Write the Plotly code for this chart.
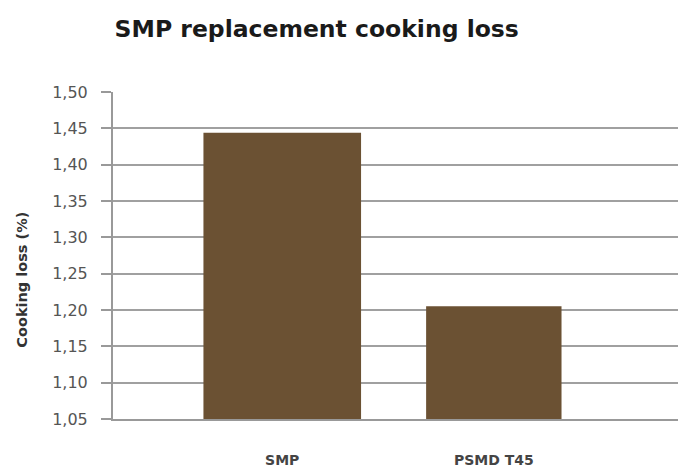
import plotly.graph_objects as go

categories = ["SMP", "PSMD T45"]
values = [1.444, 1.205]
tick_vals = [1.05, 1.10, 1.15, 1.20, 1.25, 1.30, 1.35, 1.40, 1.45, 1.50]

FONT = "DejaVu Sans"

fig = go.Figure(go.Bar(
    x=[0, 1], y=[v - 1.05 for v in values], base=1.05,
    marker=dict(color="#6b5133", line=dict(width=0)),
    width=[0.745, 0.64],
))

fig.update_layout(
    width=686, height=472,
    margin=dict(l=105, r=14, t=84, b=58),
    paper_bgcolor="white", plot_bgcolor="white",
    separators=",.",
    showlegend=False,
    title=dict(text="<b>SMP replacement cooking loss</b>", x=0.45, xanchor="center",
               y=0.955, yanchor="middle",
               font=dict(family=FONT, size=23.5, color="#1a1a1a")),
    font=dict(family=FONT, color="#333"),
    annotations=[dict(text="<b>Cooking loss (%)</b>", xref="paper", yref="paper",
                      x=-0.16, y=0.427, xanchor="center", yanchor="middle",
                      textangle=-90, showarrow=False,
                      font=dict(family=FONT, size=14.5, color="#333"))],
)
fig.update_xaxes(
    range=[-0.8, 1.88], tickvals=[0, 1], ticktext=[f"<b>{c}</b>" for c in categories],
    showgrid=False, zeroline=False, showline=True, linecolor="#999", linewidth=2,
    tickfont=dict(family=FONT, size=14, color="#444"), ticks="", ticklabelstandoff=27,
)
fig.update_yaxes(
    range=[1.05, 1.50], tickvals=tick_vals, tickformat=".2f",
    showgrid=True, gridcolor="#a0a0a0", gridwidth=1.5,
    showline=True, linecolor="#999", linewidth=2,
    ticks="outside", ticklen=10, tickcolor="#999", tickwidth=1.5,
    tickfont=dict(family=FONT, size=16, color="#555"),
    ticklabelstandoff=10,
    zeroline=False,
)
fig.write_html("out.html")
